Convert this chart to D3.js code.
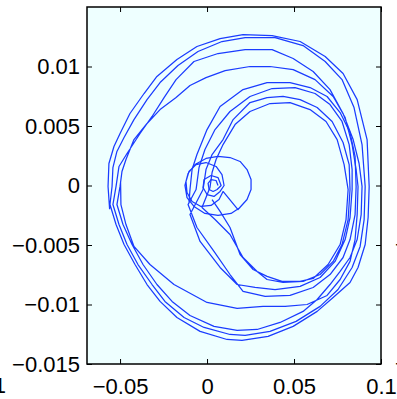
<!DOCTYPE html>
<html>
<head>
<meta charset="utf-8">
<script src="https://cdn.jsdelivr.net/npm/d3@7"></script>
<style>
  body { margin: 0; background: #fff; }
  text { font-family: "Liberation Sans", Arial, Helvetica, sans-serif; }
</style>
</head>
<body>
<div id="phase"></div>
<script>
// tick values
var xTicks = [-0.05, 0, 0.05, 0.1];
var yTicks = [-0.015, -0.01, -0.005, 0, 0.005, 0.01];

// small spiral near the origin
var spiralPts = [
  [0.0063, 0], [0.0052, 0.00042], [0.0023, 0.00050], [0.0006, 0.00017], [0.0012, -0.00034], [0.0035, -0.00050], [0.0058, -0.00034],
  [0.0081, 0], [0.0063, 0.00067], [0.0023, 0.00084], [-0.0017, 0.00050], [-0.0023, -0.00017], [0, -0.00076], [0.0040, -0.00092], [0.0075, -0.00050],
  [0.0098, 0], [0.0086, 0.00092], [0.0052, 0.00160], [-0.0006, 0.00193], [-0.0063, 0.00176], [-0.0104, 0.00118], [-0.0121, 0.00034],
  [-0.0115, -0.00059], [-0.0086, -0.00134], [-0.0035, -0.00176], [0.0023, -0.00168], [0.0069, -0.00118], [0.0092, -0.00050],
  [0.0178, -0.00202], [0.0230, -0.00118], [0.0253, -0.00034], [0.0253, 0.00050], [0.0230, 0.00134], [0.0190, 0.00202], [0.0132, 0.00235],
  [0.0063, 0.00244], [-0.0006, 0.00227], [-0.0069, 0.00176], [-0.0109, 0.00101], [-0.0127, 0], [-0.0115, -0.00101], [-0.0075, -0.00176],
  [-0.0012, -0.00235], [0.0063, -0.00252], [0.0138, -0.00235], [0.0190, -0.00185]
];

// loops whose left side runs close to the origin
var innerPts = [
  [-0.0104, -0.00150],
  [-0.0098, -0.00034], [-0.0086, 0.00134], [-0.0058, 0.00260], [0, 0.00470], [0.0075, 0.00664], [0.0207, 0.00806], [0.0345, 0.00865], [0.0477, 0.00865],
  [0.0592, 0.00823], [0.0690, 0.00748], [0.0765, 0.00613], [0.0822, 0.00445], [0.0851, 0.00244], [0.0857, -0.00008], [0.0851, -0.00244], [0.0822, -0.00454],
  [0.0782, -0.00605], [0.0707, -0.00748], [0.0610, -0.00857], [0.0477, -0.00924], [0.0334, -0.00932], [0.0207, -0.00890], [0.0132, -0.00748], [0.0040, -0.00554],
  [-0.0058, -0.00353], [-0.0109, -0.00160],
  [-0.0063, -0.00034], [-0.0046, 0.00151], [-0.0012, 0.00302], [0.0046, 0.00470], [0.0132, 0.00622], [0.0247, 0.00748], [0.0374, 0.00815], [0.0506, 0.00823],
  [0.0621, 0.00773], [0.0707, 0.00680], [0.0776, 0.00538], [0.0817, 0.00344], [0.0834, 0.00134], [0.0834, -0.00034], [0.0822, -0.00269], [0.0794, -0.00454],
  [0.0736, -0.00638], [0.0650, -0.00773], [0.0535, -0.00848], [0.0391, -0.00874], [0.0276, -0.00857], [0.0173, -0.00832], [0.0075, -0.00689], [-0.0040, -0.00470],
  [-0.0098, -0.00244],
  [-0.0023, -0.00034], [-0.0006, 0.00134], [0.0029, 0.00260], [0.0092, 0.00386], [0.0150, 0.00554], [0.0247, 0.00697], [0.0345, 0.00739], [0.0437, 0.00748],
  [0.0535, 0.00722], [0.0633, 0.00655], [0.0719, 0.00538], [0.0782, 0.00361], [0.0817, 0.00176], [0.0822, -0.00034], [0.0811, -0.00286], [0.0776, -0.00496],
  [0.0725, -0.00638], [0.0650, -0.00748], [0.0552, -0.00806], [0.0437, -0.00815], [0.0345, -0.00790], [0.0288, -0.00722], [0.0207, -0.00605], [0.0132, -0.00412],
  [0.0046, -0.00286], [-0.0029, -0.00185],
  [0.0017, -0.00017], [0.0029, 0.00109], [0.0052, 0.00218], [0.0092, 0.00344], [0.0161, 0.00512], [0.0247, 0.00622], [0.0362, 0.00689], [0.0477, 0.00697],
  [0.0592, 0.00638], [0.0684, 0.00538], [0.0748, 0.00386], [0.0788, 0.00176], [0.0811, -0.00034], [0.0799, -0.00286], [0.0765, -0.00496], [0.0696, -0.00664],
  [0.0610, -0.00781], [0.0535, -0.00806], [0.0431, -0.00806], [0.0345, -0.00764], [0.0265, -0.00706], [0.0190, -0.00580], [0.0132, -0.00353], [0.0075, -0.00218],
  [0.0029, -0.00118]
];

// the four wide loops
var outerPts = [
  [-0.0560, -0.00200],
  [-0.0569, -0.00008], [-0.0564, 0.00185], [-0.0535, 0.00328], [-0.0500, 0.00437], [-0.0443, 0.00605], [-0.0362, 0.00773], [-0.0288, 0.00916], [-0.0173, 0.01058],
  [-0.0058, 0.01168], [0.0075, 0.01235], [0.0207, 0.01268], [0.0374, 0.01260], [0.0535, 0.01210], [0.0679, 0.01084], [0.0782, 0.00941], [0.0863, 0.00722],
  [0.0920, 0.00386], [0.0932, -0.00008], [0.0926, -0.00269], [0.0909, -0.00496], [0.0868, -0.00689], [0.0822, -0.00815], [0.0725, -0.00941], [0.0633, -0.01058],
  [0.0495, -0.01184], [0.0351, -0.01268], [0.0201, -0.01302], [0.0115, -0.01294], [-0.0040, -0.01226], [-0.0173, -0.01109], [-0.0270, -0.00974], [-0.0345, -0.00832],
  [-0.0414, -0.00664], [-0.0477, -0.00496], [-0.0523, -0.00328], [-0.0558, -0.00160],
  [-0.0546, -0.00008], [-0.0541, 0.00151], [-0.0518, 0.00286], [-0.0477, 0.00403], [-0.0420, 0.00554], [-0.0345, 0.00722], [-0.0270, 0.00865], [-0.0167, 0.01008],
  [-0.0052, 0.01126], [0.0086, 0.01210], [0.0219, 0.01243], [0.0391, 0.01243], [0.0552, 0.01176], [0.0679, 0.01042], [0.0776, 0.00890], [0.0845, 0.00655],
  [0.0891, 0.00344], [0.0909, -0.00008], [0.0903, -0.00286], [0.0880, -0.00512], [0.0834, -0.00689], [0.0753, -0.00874], [0.0650, -0.01016], [0.0512, -0.01142],
  [0.0362, -0.01226], [0.0219, -0.01260], [0.0132, -0.01252], [-0.0017, -0.01193], [-0.0132, -0.01109], [-0.0242, -0.00974], [-0.0316, -0.00832], [-0.0397, -0.00664],
  [-0.0460, -0.00496], [-0.0506, -0.00328], [-0.0541, -0.00160],
  [-0.0523, -0.00008], [-0.0506, 0.00160], [-0.0460, 0.00269], [-0.0385, 0.00437], [-0.0316, 0.00580], [-0.0247, 0.00739], [-0.0178, 0.00890], [-0.0075, 0.01042],
  [0.0063, 0.01109], [0.0219, 0.01142], [0.0374, 0.01142], [0.0495, 0.01067], [0.0610, 0.00958], [0.0707, 0.00806], [0.0782, 0.00605], [0.0840, 0.00386],
  [0.0874, 0.00185], [0.0891, -0.00008], [0.0886, -0.00244], [0.0863, -0.00454], [0.0822, -0.00605], [0.0765, -0.00722], [0.0707, -0.00832], [0.0633, -0.00958],
  [0.0552, -0.01058], [0.0420, -0.01151], [0.0288, -0.01210], [0.0173, -0.01218], [0.0040, -0.01184], [-0.0098, -0.01092], [-0.0201, -0.00974], [-0.0288, -0.00832],
  [-0.0368, -0.00664], [-0.0431, -0.00496], [-0.0483, -0.00328], [-0.0518, -0.00160],
  [-0.0500, -0.00008], [-0.0489, 0.00118], [-0.0466, 0.00218], [-0.0420, 0.00386], [-0.0345, 0.00521], [-0.0270, 0.00638], [-0.0178, 0.00739], [-0.0098, 0.00840],
  [-0.0006, 0.00907], [0.0104, 0.00966], [0.0247, 0.01000], [0.0362, 0.01000], [0.0495, 0.00974], [0.0621, 0.00890], [0.0725, 0.00748], [0.0794, 0.00571],
  [0.0834, 0.00344], [0.0857, 0.00134], [0.0868, -0.00008], [0.0863, -0.00244], [0.0851, -0.00454], [0.0822, -0.00638], [0.0765, -0.00790], [0.0690, -0.00924],
  [0.0575, -0.01000], [0.0449, -0.01016], [0.0322, -0.01016], [0.0173, -0.01033], [0, -0.00983], [-0.0190, -0.00832], [-0.0328, -0.00664], [-0.0420, -0.00512],
  [-0.0466, -0.00328], [-0.0495, -0.00160], [-0.0497, 0.00030]
];

var margin = { top: 7, right: 16, bottom: 35, left: 87 },
    width = 397 - margin.left - margin.right,
    height = 399 - margin.top - margin.bottom;

var svg = d3.select("#phase")
    .append("svg")
    .attr("width", 397)
    .attr("height", 399)
    .append("g")
    .attr("transform", "translate(" + margin.left + "," + margin.top + ")");

var x = d3.scaleLinear().domain([-0.069, 0.1]).range([0, width]);
var y = d3.scaleLinear().domain([-0.015, 0.015]).range([height, 0]);

var fmt = function (d) { return d == 0 ? "0" : String(d).replace("-", "\u2212"); };

svg.append("rect")
    .attr("width", width)
    .attr("height", height)
    .attr("fill", "#eeffff");

svg.append("defs").append("clipPath").attr("id", "clip")
    .append("rect").attr("width", width).attr("height", height);

var line = d3.line()
    .x(function (d) { return x(d[0]); })
    .y(function (d) { return y(d[1]); });

var curves = svg.append("g").attr("clip-path", "url(#clip)");
[spiralPts, innerPts, outerPts].forEach(function (pts) {
    curves.append("path")
        .attr("d", line(pts))
        .attr("fill", "none")
        .attr("stroke", "#1a3cff")
        .attr("stroke-width", 1.25)
        .attr("stroke-linejoin", "round");
});

// axes: inward ticks on all four sides
var tk = 5;
svg.append("g")
    .attr("transform", "translate(0," + height + ")")
    .call(d3.axisBottom(x).tickValues(xTicks).tickSize(-tk).tickPadding(14).tickFormat(fmt));
svg.append("g")
    .call(d3.axisTop(x).tickValues(xTicks).tickSize(-tk).tickFormat(""));
svg.append("g")
    .call(d3.axisLeft(y).tickValues(yTicks).tickSize(-tk).tickPadding(7).tickFormat(fmt));
svg.append("g")
    .attr("transform", "translate(" + width + ",0)")
    .call(d3.axisRight(y).tickValues(yTicks).tickSize(-tk).tickFormat(""));

svg.selectAll(".domain").remove();
svg.selectAll(".tick line").attr("stroke", "#000").attr("stroke-width", 1);
svg.selectAll(".tick text")
    .attr("fill", "#000")
    .style("font-size", "22px");

svg.append("rect")
    .attr("width", width)
    .attr("height", height)
    .attr("fill", "none")
    .attr("stroke", "#000")
    .attr("stroke-width", 1.5);

// tick labels of the neighbouring panels that peek in at the edges
svg.append("text")
    .attr("x", 6 - margin.left)
    .attr("y", height + 29)
    .attr("text-anchor", "end")
    .style("font-size", "22px")
    .text("0.1");

svg.selectAll(".nbr")
    .data([-0.015, -0.005])
    .enter().append("text")
    .attr("x", width + 82)
    .attr("y", function (d) { return y(d); })
    .attr("dy", "0.32em")
    .attr("text-anchor", "end")
    .style("font-size", "22px")
    .text(fmt);
</script>
</body>
</html>
